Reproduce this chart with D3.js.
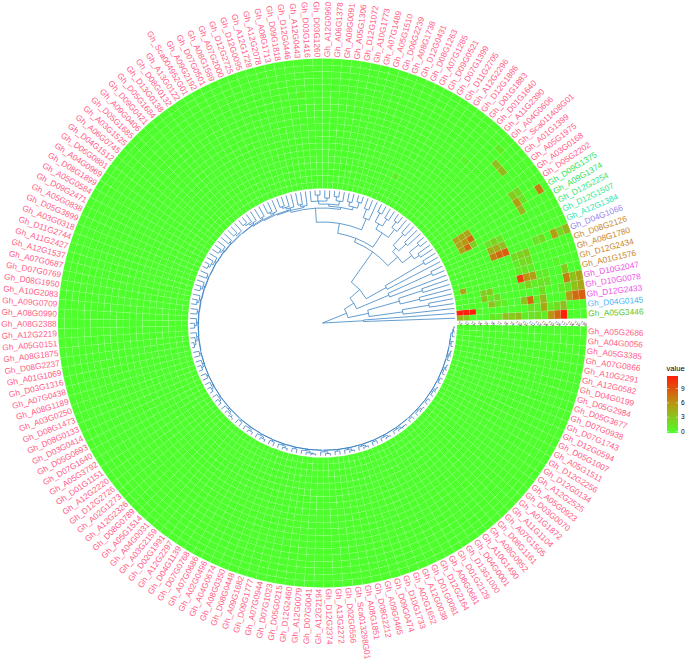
<!DOCTYPE html>
<html><head><meta charset="utf-8">
<script src="https://cdn.jsdelivr.net/npm/d3@7"></script>
<style>html,body{margin:0;padding:0;background:#fff}svg{display:block}text{font-family:"Liberation Sans",Arial,sans-serif}</style>
</head><body><svg id="c" width="685" height="661"></svg>
<script>
const geneLabels = ["Gh_A05G3446","Gh_D04G0145","Gh_D12G2433","Gh_D10G0078","Gh_D10G2047","Gh_A01G1576","Gh_D12G2434","Gh_A08G1780","Gh_D08G2126","Gh_D04G1066","Gh_A12G1384","Gh_D12G1507","Gh_D12G2254","Gh_A09G1374","Gh_D09G1375","Gh_D05G2202","Gh_A03G0168","Gh_A05G1975","Gh_A01G1399","Gh_Sca011408G01","Gh_A04G0606","Gh_A11G2390","Gh_D01G1640","Gh_D01G1883","Gh_D12G1886","Gh_A12G2296","Gh_D11G2705","Gh_D07G1399","Gh_D09G0521","Gh_A07G1285","Gh_D08G1263","Gh_D12G0431","Gh_A08G1738","Gh_D06G2239","Gh_A05G1510","Gh_A07G1489","Gh_A10G1773","Gh_D12G1072","Gh_A05G1306","Gh_A08G0091","Gh_A06G1378","Gh_A12G0960","Gh_D03G1260","Gh_D03G1416","Gh_A12G0443","Gh_D12G0446","Gh_D09G1818","Gh_A08G1713","Gh_A12G2078","Gh_A12G1728","Gh_D12G0095","Gh_D12G2725","Gh_A07G2000","Gh_A08G1589","Gh_D07G0501","Gh_A09G2192","Gh_Sca004952G01","Gh_A13G0122","Gh_D08G0132","Gh_D13G0138","Gh_D05G1684","Gh_D09G0421","Gh_A09G0406","Gh_D05G1685","Gh_A03G1525","Gh_A06G0745","Gh_D04G1512","Gh_D06G0881","Gh_A04G0969","Gh_D08G1899","Gh_A05G0584","Gh_D09G2471","Gh_A05G0838","Gh_D05G3899","Gh_A03G0318","Gh_D11G2744","Gh_A11G2427","Gh_A12G1537","Gh_A07G0687","Gh_D07G0769","Gh_D08G1950","Gh_A10G2083","Gh_A09G0709","Gh_A08G0990","Gh_A08G2388","Gh_A12G2219","Gh_A05G0151","Gh_A08G1875","Gh_D08G2237","Gh_A01G1069","Gh_D03G1316","Gh_A07G0438","Gh_A08G1189","Gh_A03G0250","Gh_D08G1473","Gh_D08G0133","Gh_D03G0414","Gh_D05G0693","Gh_D07G1640","Gh_A05G3792","Gh_D01G1151","Gh_A12G2220","Gh_D12G2726","Gh_A02G1273","Gh_A12G2326","Gh_D08G0789","Gh_A05G1514","Gh_A04G0031","Gh_A03G2159","Gh_D02G1991","Gh_A12G2297","Gh_D04G1139","Gh_D07G0768","Gh_A07G0686","Gh_A02G0496","Gh_A04G0674","Gh_A08G0350","Gh_D08G0448","Gh_A09G1682","Gh_D09G1777","Gh_A07G0944","Gh_D07G1023","Gh_D05G0215","Gh_D12G2460","Gh_A12G0079","Gh_D07G0041","Gh_A12G2194","Gh_D12G2374","Gh_A13G2272","Gh_D02G0556","Gh_Sca013298G01","Gh_A08G1851","Gh_D08G2212","Gh_A09G0465","Gh_D09G0474","Gh_D10G1733","Gh_A02G1652","Gh_A12G0038","Gh_D01G0081","Gh_D12G2164","Gh_A08G0681","Gh_D01G2129","Gh_D13G1000","Gh_D04G0001","Gh_A10G1490","Gh_A08G0952","Gh_D08G1161","Gh_A07G1505","Gh_A11G1104","Gh_A01G1872","Gh_D03G0070","Gh_A05G0923","Gh_A12G2525","Gh_D12G0134","Gh_D12G2256","Gh_A05G1511","Gh_D05G1007","Gh_D12G0594","Gh_D07G1743","Gh_D07G0938","Gh_D05G3677","Gh_D05G2984","Gh_D04G0199","Gh_A12G0582","Gh_A10G2291","Gh_A07G0866","Gh_A05G3385","Gh_A04G0056","Gh_A05G2686"];

// special label colours, by row
const labelColors = {0:"#58c41c",1:"#4db5f2",2:"#f04fe8",3:"#f04fe8",4:"#f04fe8",5:"#c8852a",6:"#c8852a",7:"#c8852a",8:"#c8852a",9:"#9a7ff0",10:"#2fe8b4",11:"#2fe890",12:"#2fe870",13:"#30e258",14:"#30e258"};
const defaultLabelColor = "#ff5c86";

const sampleColumns = ["T1","T2","T3","T4","T5","T6","T7","T8","T9","T10","T11","T12","T13","T14","T15","T16","T17","T18","T19","T20"];

// non-zero cells: [row, column, value]
const heatCells = [
[0,0,4],[0,1,3],[0,5,1.5],[0,6,1],[0,7,3.5],[0,8,3],[0,9,4],[0,10,1],[0,11,1.5],[0,12,2],[0,13,1],[0,14,6],[0,15,8],[0,16,11.5],
[1,0,11.5],[1,1,11.5],[1,2,11.5],[1,3,.5],[1,11,1.5],[1,12,1],[1,13,5],[1,14,1],[1,15,2],[1,16,3.5],
[2,5,3.5],[2,6,1.5],[2,7,1],[2,10,3.5],[2,11,8],[2,12,1],[2,13,4],[2,17,5.5],[2,18,8],[2,19,8.5],
[3,4,3.5],[3,5,1],[3,6,2],[3,13,2],[3,16,1],[3,17,1.5],[3,18,3.5],[3,19,5],
[4,4,2.5],[4,5,3],[4,10,1],[4,11,2.5],[4,12,1],[4,13,1.5],[4,14,1.5],[4,17,7],[4,18,3.5],[4,19,5],
[5,1,5],[5,10,10],[5,11,6],[5,12,5.5],[5,17,3],[5,13,1],[5,14,1],
[6,10,1],[6,11,1.5],[6,12,1],[6,16,.5],
[7,10,1],[7,11,2],[7,12,2],
[8,10,2],[8,11,2.5],[8,12,3],
[9,7,7],[9,8,8],[9,9,8.5],[9,14,1.5],[9,15,2],[9,17,5.5],[9,18,2],[9,19,4],
[10,7,4.5],[10,8,4.5],[10,9,3.5],
[11,7,1.5],[11,8,2.5],[11,9,1.5],
[12,3,5],[12,4,8],[12,5,2.5],
[13,3,5],[13,4,6],[13,5,8],[13,14,4],
[14,3,5],[14,4,5],[14,5,5],[14,14,5.5],[14,15,1.5],[14,18,7],
[15,14,3],[15,15,2],
[18,15,4],[19,15,3.5],[20,17,1],[29,4,1],[22,12,.5],[44,14,.5]
];

// dendrogram: [nodeRadius, child, child], 0 = tip
const treeTop = [0,
 [41,0,0],
 [26,
  [47,[81,0,[108,0,0]],[80,[100,0,0],[105,0,0]]],
  [37,
   [72,0,[120,0,0]],
   [50,
    [73,0,[118,0,0]],
    [87,
     [100,[112,[118,0,0],[124,0,0]],[105,[115,0,0],[120,0,0]]],
     [91,
      [108,[118,0,[125,0,0]],[114,[122,0,0],[124,0,0]]],
      [101,
       [113,0,[122,0,0]],
       [115,
        [117,[120,[126,0,0],[124,0,0]],[119,[123,0,[127,0,0]],[122,[125,0,0],[128,0,0],0]]],
        "spine"]
      ]
     ]
    ]
   ]
  ]
 ]
];
const spineSizes = [3,4,3,2,4,3,2,3,4,2,3,3,2,3,4,2,3,2,3,3,4,2,3,3,2,3,2,4,3,2,3,3,2,3,4,2,3,2,3,2,3,3,2,3];
const spineRadii = [117,118,119,120,120.5,121,121.5,122,122.5,123,123.5,124,124.3,124.6,125,125.2,125.4,125.6,125.8,126,126.2,126.4,126.6,126.8,127,127.1,127.2,127.3,127.4,127.5,127.6,127.7,127.8,127.9,128,128.1,128.2,128.3,128.4,128.5,128.6,128.7,128.8,128.9];
const legendTicks = [0,3,6,9];
const legendMax = 11.6;

// ---- geometry
const W=685,H=661,cx=322.5,cy=323,rIn=134.5,rOut=264.5,tipR=132.5,labelR=265.8;
const startDeg=1,endDeg=359.3;
const rad=d=>d*Math.PI/180;
const svg=d3.select("#c");
const g=svg.append("g").attr("transform",`translate(${cx},${cy})`);

const color=d3.scaleLinear().domain([0,5.8,legendMax]).range(["#4dff2b","#b59a10","#ff1c0a"]).clamp(true);
const rowScale=d3.scaleBand().domain(d3.range(geneLabels.length)).range([startDeg,endDeg]);
const colScale=d3.scaleBand().domain(sampleColumns).range([rIn,rOut]);

// ---- heatmap
const lookup=new Map(heatCells.map(c=>[c[0]+"|"+c[1],c[2]]));
const cells=[];
geneLabels.forEach((gene,r)=>sampleColumns.forEach((col,c)=>cells.push({r,col,v:lookup.get(r+"|"+c)||0})));
const arc=d3.arc()
 .innerRadius(d=>colScale(d.col)).outerRadius(d=>colScale(d.col)+colScale.bandwidth())
 .startAngle(d=>rad(90-rowScale(d.r)-rowScale.bandwidth())).endAngle(d=>rad(90-rowScale(d.r)));
g.append("g").selectAll("path").data(cells).join("path")
 .attr("d",arc).attr("fill",d=>color(d.v)).attr("stroke","#fff").attr("stroke-opacity",.16).attr("stroke-width",.5);

// ---- dendrogram
function clade(size,r){
 const c=Math.min(r+1.5,131.3);
 if(size<=1) return 0;
 if(size===2) return [c,0,0];
 return [c,0,clade(size-1,Math.min(c+.3,131.5))];
}
function spine(i){
 if(i===spineSizes.length-1) return clade(spineSizes[i],spineRadii[i]);
 return [spineRadii[i],clade(spineSizes[i],spineRadii[i]),spine(i+1)];
}
function toNode(a){
 if(a===0) return {r:tipR};
 if(a==="spine") return toNode(spine(0));
 return {r:a[0],children:a.slice(1).map(toNode)};
}
const root=d3.hierarchy(toNode(treeTop));
d3.cluster().nodeSize([rowScale.step(),1]).separation(()=>1)(root);
const leaves=root.leaves();
const x0=leaves[0].x;
const angleOf=n=>(n.x-x0)+startDeg+rowScale.step()/2;
const treePath=d3.path();
root.each(n=>{
 const a=angleOf(n),t=rad(a);
 if(n.parent){
  treePath.moveTo(n.parent.data.r*Math.cos(t),-n.parent.data.r*Math.sin(t));
  treePath.lineTo(n.data.r*Math.cos(t),-n.data.r*Math.sin(t));
 }
 if(n.children){
  const as=n.children.map(angleOf),lo=rad(d3.min(as)),hi=rad(d3.max(as));
  treePath.moveTo(n.data.r*Math.cos(lo),-n.data.r*Math.sin(lo));
  treePath.arc(0,0,n.data.r,-lo,-hi,true);
 }
});
g.append("path").attr("d",treePath.toString()).attr("fill","none").attr("stroke","#2f7cc0").attr("stroke-width",.75);
g.append("g").selectAll("circle").data(leaves).join("circle")
 .attr("cx",d=>tipR*Math.cos(rad(angleOf(d)))).attr("cy",d=>-tipR*Math.sin(rad(angleOf(d))))
 .attr("r",.45).attr("fill","#f08cb0");

// ---- gene labels
g.append("g").selectAll("text").data(geneLabels).join("text")
 .attr("transform",(d,i)=>{
   const a=rowScale(i)+rowScale.bandwidth()/2, left=a>90&&a<270;
   return `rotate(${-a}) translate(${labelR},0)`+(left?" rotate(180)":"");
 })
 .attr("text-anchor",(d,i)=>{const a=rowScale(i)+rowScale.bandwidth()/2;return a>90&&a<270?"end":"start";})
 .attr("dy",".35em").attr("font-size",8.3)
 .attr("fill",(d,i)=>labelColors[i]||defaultLabelColor).text(d=>d);

// ---- column labels in the gap
g.append("g").selectAll("text").data(sampleColumns).join("text")
 .attr("transform",d=>`translate(${colScale(d)+colScale.bandwidth()/2},0.4) rotate(35)`)
 .attr("text-anchor","middle").attr("dy",".35em").attr("font-size",3.8).attr("fill","#111").text(d=>d);

// ---- legend
const lx=667,lw=11,lTop=376,lBot=433;
const ly=d3.scaleLinear().domain([-0.3,legendMax]).range([lBot,lTop]);
const defs=svg.append("defs");
const lg=defs.append("linearGradient").attr("id","lg").attr("x1",0).attr("x2",0).attr("y1",1).attr("y2",0);
[0,.25,.5,.75,1].forEach(p=>lg.append("stop").attr("offset",p).attr("stop-color",color(p*legendMax)));
svg.append("rect").attr("x",lx).attr("y",lTop).attr("width",lw).attr("height",lBot-lTop).attr("fill","url(#lg)");
svg.append("text").attr("x",lx-.5).attr("y",371).attr("font-size",7.6).attr("fill","#000").text("value");
const lt=svg.append("g").selectAll("g").data(legendTicks).join("g").attr("transform",d=>`translate(0,${ly(d)})`);
lt.append("path").attr("d",`M${lx},0h2.2M${lx+lw},0h-2.2`).attr("stroke","#fff").attr("stroke-width",.5);
lt.append("text").attr("x",lx+lw+3).attr("dy",".35em").attr("font-size",6.5).attr("fill","#000").text(d=>d);
</script></body></html>
